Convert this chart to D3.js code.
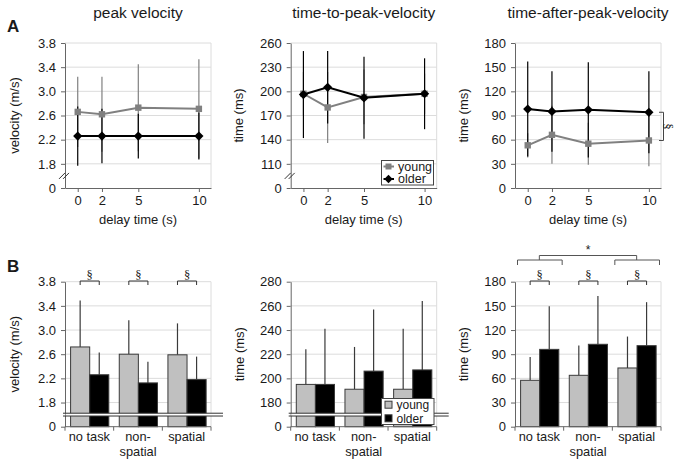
<!DOCTYPE html>
<html><head><meta charset="utf-8">
<script src="https://cdn.jsdelivr.net/npm/d3@7"></script>
<style>
body{margin:0;background:#fff}
text{font-family:"Liberation Sans",Arial,sans-serif;fill:#1a1a1a}
</style>
</head><body>
<svg id="c" width="678" height="463"></svg>
<script>
// ---------------- data ----------------
const delays = [0, 2, 5, 10];
const groups = ["young", "older"];
const tasks = ["no task", "non-spatial", "spatial"];
const taskLabelLines = [["no task"], ["non-", "spatial"], ["spatial"]];

// Panel A: mean and SD per delay time
const pvYoung = [2.66, 2.62, 2.73, 2.71];
const pvYoungSD = [0.58, 0.62, 0.72, 0.82];
const pvOlder = [2.26, 2.26, 2.26, 2.26];
const pvOlderSD = [0.49, 0.45, 0.37, 0.39];

const ttpYoung = [197, 180, 193, 197];
const ttpYoungSD = [27, 44, 34, 25];
const ttpOlder = [196, 205, 192, 197];
const ttpOlderSD = [54, 45, 51, 44];

const tapYoung = [53, 66, 55, 59];
const tapYoungSD = [15, 36, 26, 32];
const tapOlder = [98, 95, 97, 94];
const tapOlderSD = [59, 50, 59, 51];

// Panel B: mean and SD per task
const bPvYoung = [2.72, 2.60, 2.59];
const bPvYoungSD = [0.77, 0.56, 0.52];
const bPvOlder = [2.26, 2.125, 2.18];
const bPvOlderSD = [0.37, 0.35, 0.38];

const bTtpYoung = [195, 191, 191];
const bTtpYoungSD = [29, 35, 50];
const bTtpOlder = [195, 206, 207];
const bTtpOlderSD = [46, 51, 57];

const bTapYoung = [57.6, 63.8, 72.9];
const bTapYoungSD = [29, 37, 39];
const bTapOlder = [96, 102.3, 100.6];
const bTapOlderSD = [53.5, 60, 54];

// axis ticks
const pvTicks = [1.8, 2.2, 2.6, 3.0, 3.4, 3.8];
const pvZero = 1.4;          // broken axis: position labelled "0"
const pvBreak = 1.6;
const ttpTicksA = [110, 140, 170, 200, 230, 260];
const ttpZeroA = 80;
const ttpBreakA = 95;
const ttpTicksB = [180, 200, 220, 240, 260, 280];
const ttpZeroB = 160;
const ttpBreakB = 170;
const tapTicks = [0, 30, 60, 90, 120, 150, 180];

// ---------------- layout ----------------
const svg = d3.select("#c");
const rowA = {y0: 43, y1: 188};
const rowB = {y0: 281.7, y1: 426.7};
const lefts = [65, 290.7, 515];
const PW = 146;
const GRID = "#dcdcdc", AX = "#666";
const young = {line: "#808080", fill: "#c0c0c0"};

function yAxis(g, y, x0, x1, ticks, zero, fmt) {
  ticks.forEach(t => {
    if (t === y.domain()[0]) return;
    g.append("line").attr("x1", x0).attr("x2", x1).attr("y1", y(t)).attr("y2", y(t))
      .attr("stroke", GRID).attr("stroke-width", 1);
  });
  g.append("line").attr("x1", x1).attr("x2", x1).attr("y1", y.range()[1]).attr("y2", y.range()[0])
    .attr("stroke", GRID);
  const vals = zero != null ? [zero, ...ticks] : ticks;
  const ax = d3.axisLeft(y).tickValues(vals).tickSize(4).tickSizeOuter(0).tickPadding(5)
    .tickFormat(d => (zero != null && d === zero) ? "0" : fmt(d));
  const a = g.append("g").attr("transform", `translate(${x0},0)`).call(ax);
  a.selectAll("path,line").attr("stroke", AX);
  a.selectAll("text").attr("font-size", 13).attr("fill", "#1a1a1a")
    .attr("font-family", "'Liberation Sans',Arial,sans-serif");
}

function yTitle(cx, cy, label) {
  svg.append("text").attr("transform", `translate(${cx},${cy}) rotate(-90)`)
    .attr("text-anchor", "middle").attr("dy", "0.35em").attr("font-size", 13).text(label);
}

function title(cx, label) {
  svg.append("text").attr("x", cx).attr("y", 18).attr("text-anchor", "middle")
    .attr("font-size", 15.5).text(label);
}

function diamondPath(r) { return `M0,${-r}L${r},0L0,${r}L${-r},0Z`; }

// ---------------- Panel A ----------------
function linePanel(i, opts) {
  const x0 = lefts[i], x1 = x0 + PW;
  const g = svg.append("g");
  const y = d3.scaleLinear().domain(opts.domain).range([rowA.y1, rowA.y0]);
  const x = d3.scaleLinear().domain([-1.05, 11]).range([x0, x1]);
  yAxis(g, y, x0, x1, opts.ticks, opts.zero, opts.fmt);
  const xa = g.append("g").attr("transform", `translate(0,${rowA.y1})`)
    .call(d3.axisBottom(x).tickValues(delays).tickSize(4).tickSizeOuter(0).tickPadding(4));
  xa.selectAll("path,line").attr("stroke", AX);
  xa.selectAll("text").attr("font-size", 13).attr("fill", "#1a1a1a")
    .attr("font-family", "'Liberation Sans',Arial,sans-serif");
  // axis break marks
  if (opts.brk != null) {
    const yb = y(opts.brk);
    [-2, 2].forEach(o => g.append("line")
      .attr("x1", x0 - 4 + o).attr("y1", yb + 3).attr("x2", x0 + 2 + o).attr("y2", yb - 3)
      .attr("stroke", "#333").attr("stroke-width", 1));
  }
  const series = [
    {m: opts.young, sd: opts.youngSD, c: young.line, key: "young"},
    {m: opts.older, sd: opts.olderSD, c: "#000", key: "older"}
  ];
  series.forEach(s => {
    g.selectAll(null).data(delays).enter().append("line")
      .attr("x1", d => x(d)).attr("x2", d => x(d))
      .attr("y1", (d, j) => y(s.m[j] - s.sd[j])).attr("y2", (d, j) => y(s.m[j] + s.sd[j]))
      .attr("stroke", s.c).attr("stroke-width", 1.2);
  });
  series.forEach(s => {
    const line = d3.line().x(d => x(d)).y((d, j) => y(s.m[j]));
    g.append("path").attr("d", line(delays)).attr("fill", "none")
      .attr("stroke", s.c).attr("stroke-width", 2);
    g.selectAll(null).data(delays).enter().append("path")
      .attr("transform", (d, j) => `translate(${x(d)},${y(s.m[j])})`)
      .attr("d", s.key === "young" ? "M-3.2,-3.2H3.2V3.2H-3.2Z" : diamondPath(4.6))
      .attr("fill", s.c);
  });
  title((x0 + x1) / 2, opts.title);
  yTitle(opts.ytx, (rowA.y0 + rowA.y1) / 2, opts.ylabel);
  svg.append("text").attr("x", (x0 + x1) / 2).attr("y", 224).attr("text-anchor", "middle")
    .attr("font-size", 13).text("delay time (s)");
  return {x, y, x0, x1, g};
}

linePanel(0, {domain: [pvZero, 3.8], ticks: pvTicks, zero: pvZero, brk: pvBreak,
  fmt: d3.format(".1f"), young: pvYoung, youngSD: pvYoungSD, older: pvOlder, olderSD: pvOlderSD,
  title: "peak velocity", ylabel: "velocity (m/s)", ytx: 14});

const pA2 = linePanel(1, {domain: [ttpZeroA, 260], ticks: ttpTicksA, zero: ttpZeroA, brk: ttpBreakA,
  fmt: d3.format("d"), young: ttpYoung, youngSD: ttpYoungSD, older: ttpOlder, olderSD: ttpOlderSD,
  title: "time-to-peak-velocity", ylabel: "time (ms)", ytx: 238});

const pA3 = linePanel(2, {domain: [0, 180], ticks: tapTicks, zero: null, brk: null,
  fmt: d3.format("d"), young: tapYoung, youngSD: tapYoungSD, older: tapOlder, olderSD: tapOlderSD,
  title: "time-after-peak-velocity", ylabel: "time (ms)", ytx: 463});

// legend A2
{
  const lg = svg.append("g").attr("transform", "translate(381.5,160.5)");
  lg.append("rect").attr("width", 52).attr("height", 24.5).attr("fill", "#fff").attr("stroke", "#444");
  const items = [{k: "young", c: young.line, y: 6}, {k: "older", c: "#000", y: 18.5}];
  items.forEach(it => {
    lg.append("line").attr("x1", 2).attr("x2", 12.5).attr("y1", it.y).attr("y2", it.y)
      .attr("stroke", it.c).attr("stroke-width", 2);
    lg.append("path").attr("transform", `translate(7,${it.y})`)
      .attr("d", it.k === "young" ? "M-3,-3H3V3H-3Z" : diamondPath(4.2)).attr("fill", it.c);
    lg.append("text").attr("x", 16.5).attr("y", it.y).attr("dy", "0.35em")
      .attr("font-size", 12.5).text(it.k);
  });
}

// § bracket A3 (delay 10)
{
  const {x, y, x1} = pA3;
  const ya = y(tapOlder[3]), yb = y(tapYoung[3]);
  const bx = x1 + 2.5;
  svg.append("path").attr("d", `M${bx - 4.5},${ya}H${bx}V${yb}H${bx - 4.5}`)
    .attr("fill", "none").attr("stroke", "#444");
  svg.append("text").attr("transform", `translate(${bx + 5.5},${(ya + yb) / 2}) rotate(90)`)
    .attr("text-anchor", "middle").attr("dy", "0.35em").attr("font-size", 13)
    .style("font-family", "'Liberation Serif',serif")
    .text("§");
}

svg.append("text").attr("x", 7).attr("y", 32).attr("font-size", 17).attr("font-weight", "bold").text("A");
svg.append("text").attr("x", 7).attr("y", 272).attr("font-size", 17).attr("font-weight", "bold").text("B");

// ---------------- Panel B ----------------
function barPanel(i, opts) {
  const x0 = lefts[i], x1 = x0 + PW;
  const g = svg.append("g");
  const y = d3.scaleLinear().domain(opts.domain).range([rowB.y1, rowB.y0]);
  const xb = d3.scaleBand().domain(tasks).range([x0, x1]).padding(0);
  const xs = d3.scaleBand().domain(groups).range([xb.bandwidth() * 0.115, xb.bandwidth() * 0.9]).padding(0);
  yAxis(g, y, x0, x1, opts.ticks, opts.zero, opts.fmt);
  const series = [
    {m: opts.young, sd: opts.youngSD, fill: young.fill, key: "young"},
    {m: opts.older, sd: opts.olderSD, fill: "#000", key: "older"}
  ];
  series.forEach(s => {
    g.selectAll(null).data(tasks).enter().append("line")
      .attr("x1", (d) => xb(d) + xs(s.key) + xs.bandwidth() / 2)
      .attr("x2", (d) => xb(d) + xs(s.key) + xs.bandwidth() / 2)
      .attr("y1", (d, j) => y(s.m[j])).attr("y2", (d, j) => y(s.m[j] + s.sd[j]))
      .attr("stroke", "#3a3a3a").attr("stroke-width", 1.2);
    g.selectAll(null).data(tasks).enter().append("rect")
      .attr("x", d => xb(d) + xs(s.key)).attr("width", xs.bandwidth())
      .attr("y", (d, j) => y(s.m[j])).attr("height", (d, j) => y(opts.domain[0]) - y(s.m[j]))
      .attr("fill", s.fill).attr("stroke", "#3a3a3a").attr("stroke-width", 1);
  });
  // x axis
  g.append("line").attr("x1", x0).attr("x2", x1).attr("y1", rowB.y1).attr("y2", rowB.y1).attr("stroke", AX);
  const edges = tasks.map(t => xb(t)).concat([xb(tasks[2]) + xb.bandwidth()]);
  edges.forEach(e => g.append("line").attr("x1", e).attr("x2", e).attr("y1", rowB.y1).attr("y2", rowB.y1 + 4).attr("stroke", AX));
  tasks.forEach((t, j) => {
    taskLabelLines[j].forEach((ln, k) => g.append("text")
      .attr("x", xb(t) + xb.bandwidth() / 2).attr("y", 441 + k * 14.5)
      .attr("text-anchor", "middle").attr("font-size", 12.8).text(ln));
  });
  // break
  if (opts.brk != null) {
    const yb = y(opts.brk);
    g.append("rect").attr("x", x0 + 0.6).attr("y", yb - 1.4).attr("width", x1 + 12 - x0).attr("height", 2.8).attr("fill", "#fff");
    [-1.4, 1.4].forEach(o => g.append("line").attr("x1", x0 - 2).attr("x2", x1 + 12)
      .attr("y1", yb + o).attr("y2", yb + o).attr("stroke", "#333").attr("stroke-width", 1));
  }
  // § brackets
  if (opts.sig) {
    tasks.forEach(t => {
      const a = xb(t) + xs("young") + xs.bandwidth() / 2, b = xb(t) + xs("older") + xs.bandwidth() / 2;
      g.append("path").attr("d", `M${a},285V281H${b}V285`).attr("fill", "none").attr("stroke", "#333");
      g.append("text").attr("x", (a + b) / 2).attr("y", 278.5).attr("text-anchor", "middle")
        .attr("font-size", 12.5).style("font-family", "'Liberation Serif',serif").text("§");
    });
  }
  yTitle(opts.ytx, (rowB.y0 + rowB.y1) / 2, opts.ylabel);
  return {xb, xs, y, x0, x1, g};
}

barPanel(0, {domain: [pvZero, 3.8], ticks: pvTicks, zero: pvZero, brk: pvBreak, fmt: d3.format(".1f"),
  young: bPvYoung, youngSD: bPvYoungSD, older: bPvOlder, olderSD: bPvOlderSD,
  ylabel: "velocity (m/s)", ytx: 14, sig: true});

barPanel(1, {domain: [ttpZeroB, 280], ticks: ttpTicksB, zero: ttpZeroB, brk: ttpBreakB, fmt: d3.format("d"),
  young: bTtpYoung, youngSD: bTtpYoungSD, older: bTtpOlder, olderSD: bTtpOlderSD,
  ylabel: "time (ms)", ytx: 239, sig: false});

const pB3 = barPanel(2, {domain: [0, 180], ticks: tapTicks, zero: null, brk: null, fmt: d3.format("d"),
  young: bTapYoung, youngSD: bTapYoungSD, older: bTapOlder, olderSD: bTapOlderSD,
  ylabel: "time (ms)", ytx: 463, sig: true});

// legend B2
{
  const lg = svg.append("g").attr("transform", "translate(381.5,398.5)");
  lg.append("rect").attr("width", 52.5).attr("height", 26).attr("fill", "#fff").attr("stroke", "#444");
  const items = [{k: "young", c: young.fill, y: 6.2}, {k: "older", c: "#000", y: 19.8}];
  items.forEach(it => {
    lg.append("rect").attr("x", 3.5).attr("y", it.y - 3.5).attr("width", 7).attr("height", 7)
      .attr("fill", it.c).attr("stroke", "#3a3a3a");
    lg.append("text").attr("x", 15).attr("y", it.y).attr("dy", "0.35em").attr("font-size", 12).text(it.k);
  });
}

// group brackets B3
{
  const {xb} = pB3;
  const bw = xb.bandwidth();
  const br = t => `M${xb(t) + 2.5},265V260H${xb(t) + bw - 1.5}V265`;
  svg.append("path").attr("d", br("no task")).attr("fill", "none").attr("stroke", "#555");
  svg.append("path").attr("d", br("spatial")).attr("fill", "none").attr("stroke", "#555");
  const ca = xb("no task") + bw / 2, cb = xb("spatial") + bw / 2;
  svg.append("path").attr("d", `M${ca},260V255.5H${cb}V260`).attr("fill", "none").attr("stroke", "#555");
  svg.append("text").attr("x", xb("non-spatial") + bw / 2).attr("y", 254).attr("text-anchor", "middle")
    .attr("font-size", 12).text("*");
}
</script>
</body></html>
